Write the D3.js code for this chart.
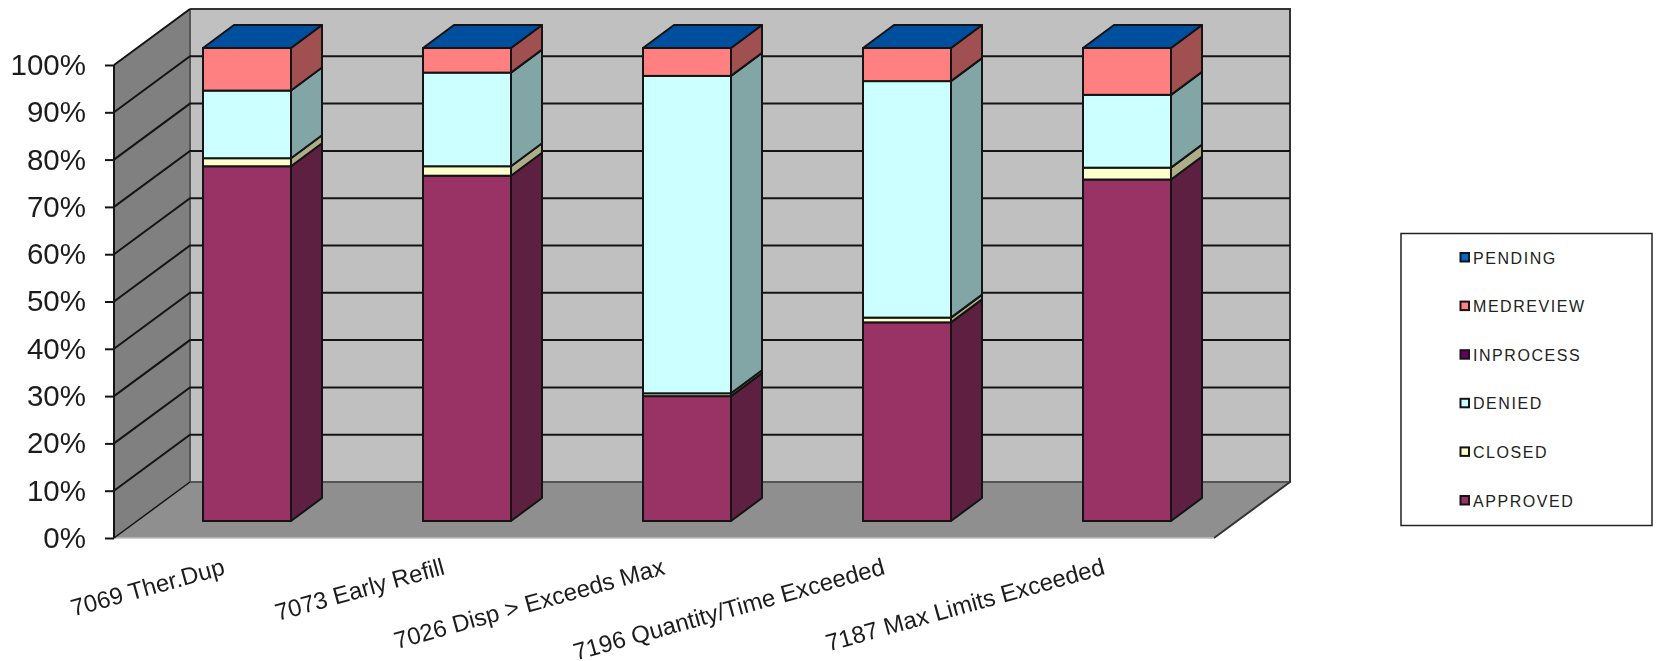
<!DOCTYPE html>
<html><head><meta charset="utf-8">
<script src="https://cdn.jsdelivr.net/npm/d3@7"></script>
<style>html,body{margin:0;padding:0;background:#fff}svg{display:block;filter:blur(0.5px)}text{font-family:"Liberation Sans",Arial,sans-serif}</style>
</head><body><svg id="c" width="1656" height="661"></svg>
<script>
const categories = ["7069 Ther.Dup","7073 Early Refill","7026 Disp > Exceeds Max","7196 Quantity/Time Exceeded","7187 Max Limits Exceeded"];
const seriesNames = ["APPROVED","CLOSED","DENIED","INPROCESS","MEDREVIEW","PENDING"];
const approved  = [75.0,73.0,26.4,42.0,72.2];
const closed    = [1.7,2.0,0.6,1.0,2.5];
const denied    = [14.3,19.8,67.1,50.0,15.4];
const inprocess = [0,0,0,0,0];
const medreview = [9.0,5.2,5.9,7.0,9.9];
const pending   = [0,0,0,0,0];
const seriesValues = [approved,closed,denied,inprocess,medreview,pending];
const seriesColors = ["#993366","#FFFFCC","#CCFFFF","#660066","#FF8080","#0066CC"];
const sideColors   = ["#5E2040","#ADAD8A","#82A5A5","#400040","#A05050","#004E9E"];
const topColor = "#004E9E";
const yTicks = d3.range(0,101,10);

const svg = d3.select("#c");
const ink = "#141414";
// projection of the chart box
const wallDx = 76, wallDy = -56;
const barDx = 31, barDy = -23;
const y = d3.scaleLinear().domain([0,100]).range([538,65]);
const xFront = d3.scaleBand().domain(categories).range([137,1237]).paddingInner(0.6).paddingOuter(0.3);
const x0 = 114, x1 = 1214;
const poly = pts => pts.map(p=>p.join(",")).join(" ");

// walls
svg.append("polygon").attr("points",poly([[x0,y(0)],[x0+wallDx,y(0)+wallDy],[x0+wallDx,y(100)+wallDy],[x0,y(100)]])).attr("fill","#808080").attr("stroke","#777").attr("stroke-width",1);
svg.append("polygon").attr("points",poly([[x0+wallDx,y(0)+wallDy],[x1+wallDx,y(0)+wallDy],[x1+wallDx,y(100)+wallDy],[x0+wallDx,y(100)+wallDy]])).attr("fill","#C0C0C0");
svg.append("polygon").attr("points",poly([[x0,y(0)],[x1,y(0)],[x1+wallDx,y(0)+wallDy],[x0+wallDx,y(0)+wallDy]])).attr("fill","#8F8F8F");

// wall borders
svg.append("path").attr("d",`M${x0+wallDx},${y(0)+wallDy}V${y(100)+wallDy}`).attr("stroke","#555").attr("stroke-width",2).attr("fill","none");
svg.append("path").attr("d",`M${x0+wallDx},${y(0)+wallDy}H${x1+wallDx}`).attr("stroke","#555").attr("stroke-width",2).attr("fill","none");
svg.append("path").attr("d",`M${x0+wallDx},${y(100)+wallDy}H${x1+wallDx}V${y(0)+wallDy}L${x1},${y(0)}`).attr("stroke","#333").attr("stroke-width",2).attr("fill","none");
svg.append("path").attr("d",`M${x0},${y(0)}H${x1}`).attr("stroke","#bbb").attr("stroke-width",1.5).attr("fill","none");

// grid
yTicks.forEach(t=>{
  const yy=y(t);
  if(t>0 && t<100){
    svg.append("path").attr("d",`M${x0},${yy}L${x0+wallDx},${yy+wallDy}H${x1+wallDx}`).attr("fill","none").attr("stroke",ink).attr("stroke-width",2);
  } else {
    svg.append("path").attr("d",`M${x0},${yy}L${x0+wallDx},${yy+wallDy}`).attr("fill","none").attr("stroke",ink).attr("stroke-width",t===0?1.5:2);
  }
});

// bars
const rows = categories.map((c,i)=>{const r={cat:c};seriesNames.forEach((s,j)=>r[s]=seriesValues[j][i]);return r;});
const stacked = d3.stack().keys(seriesNames)(rows);
const lift = 17; // bars sit part-way into the floor
rows.forEach((r,i)=>{
  const g = svg.append("g");
  const xa = xFront(r.cat), xb = xa + xFront.bandwidth();
  stacked.forEach((layer,j)=>{
    const [a,b] = layer[i];
    if(b-a<=0) return;
    const ya=y(a)-lift, yb=y(b)-lift;
    g.append("rect").attr("x",xa).attr("y",yb).attr("width",xb-xa).attr("height",ya-yb)
      .attr("fill",seriesColors[j]).attr("stroke",ink).attr("stroke-width",2);
    g.append("polygon").attr("points",poly([[xb,ya],[xb+barDx,ya+barDy],[xb+barDx,yb+barDy],[xb,yb]]))
      .attr("fill",sideColors[j]).attr("stroke",ink).attr("stroke-width",2).attr("stroke-linejoin","round");
  });
  const yt=y(100)-lift;
  g.append("polygon").attr("points",poly([[xa,yt],[xb,yt],[xb+barDx,yt+barDy],[xa+barDx,yt+barDy]]))
    .attr("fill",topColor).attr("stroke",ink).attr("stroke-width",2).attr("stroke-linejoin","round");
});

// axis
svg.append("path").attr("d",`M${x0},${y(0)}V${y(100)}`).attr("stroke",ink).attr("stroke-width",2).attr("fill","none");
const yAxis = svg.append("g").attr("transform",`translate(${x0},0)`)
  .call(d3.axisLeft(y).tickValues(yTicks).tickFormat(d=>d+"%").tickSize(9).tickPadding(19));
yAxis.select(".domain").remove();
yAxis.selectAll("line").attr("stroke",ink).attr("stroke-width",2);
yAxis.selectAll("text").attr("font-size",29.5).attr("fill","#1c1c1c").attr("font-family","'Liberation Sans',Arial,sans-serif");

// category labels
svg.append("g").selectAll("text").data(categories).join("text")
  .attr("text-anchor","end")
  .attr("transform",d=>`translate(${xFront(d)+xFront.bandwidth()/2-21},574) rotate(-15.6)`)
  .attr("font-size",24).attr("fill","#1c1c1c").text(d=>d);

// legend
const legY = d3.scalePoint().domain(seriesNames.slice().reverse()).range([257.5,500.5]);
svg.append("rect").attr("x",1401).attr("y",233.5).attr("width",251).attr("height",292).attr("fill","#fff").attr("stroke","#222").attr("stroke-width",1.5);
seriesNames.forEach((s,j)=>{
  svg.append("rect").attr("x",1460.5).attr("y",legY(s)-4.5).attr("width",8.5).attr("height",8.5).attr("fill",seriesColors[j]).attr("stroke",ink).attr("stroke-width",2);
  svg.append("text").attr("x",1473).attr("y",legY(s)+6).attr("font-size",16).attr("letter-spacing",1.55).attr("fill","#222").text(s);
});
</script></body></html>
